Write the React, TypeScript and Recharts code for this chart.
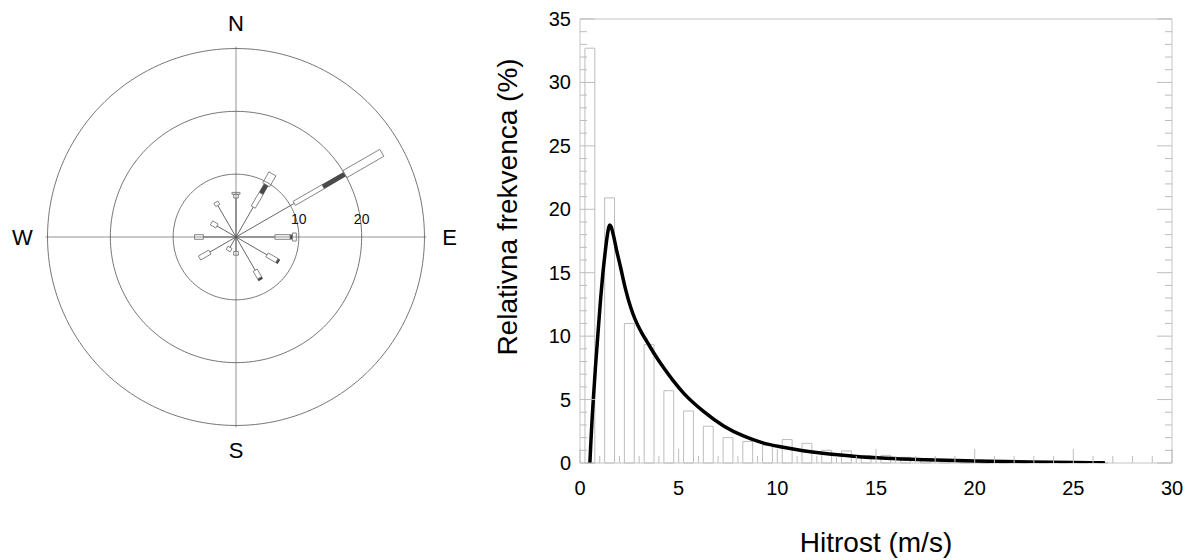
import React from 'react';
import {
  ScatterChart,
  Scatter,
  XAxis,
  YAxis,
  ReferenceLine,
  ReferenceArea,
  ComposedChart,
  Label,
} from 'recharts';

const FONT = '"Liberation Sans", Arial, Helvetica, sans-serif';

// ---------------- Wind rose data (relative frequency, %) ----------------
const roseDirections = [0, 30, 60, 90, 120, 150, 180, 210, 240, 270, 300, 330];
// cumulative frequency at the end of each speed class
const roseClass1 = [6.2, 5.5, 10.7, 6.2, 5.7, 6.1, 2.3, 1.9, 4.8, 5.2, 3.5, 5.8];
const roseClass2 = [6.8, 8.0, 16.0, 8.6, 7.5, 7.5, 2.9, 2.5, 6.7, 6.6, 4.5, 6.4];
const roseClass3 = [6.8, 9.6, 20.0, 9.0, 7.9, 7.9, 2.9, 2.5, 6.7, 6.6, 4.5, 6.4];
const roseClass4 = [7.1, 11.6, 26.8, 9.6, 7.9, 7.9, 2.9, 2.5, 6.7, 6.6, 4.5, 6.4];
const roseRings = [10, 20, 30];
const roseRingLabels = [10, 20];
const compassLabels = ['N', 'E', 'S', 'W'];

// ---------------- Speed histogram data ----------------
const speedBins = [
  0.5, 1.5, 2.5, 3.5, 4.5, 5.5, 6.5, 7.5, 8.5, 9.5, 10.5, 11.5, 12.5, 13.5,
  14.5, 15.5, 16.5, 17.5, 18.5, 19.5, 20.5, 21.5, 22.5, 23.5, 24.5, 25.5, 26.5,
];
const speedFreq = [
  32.7, 20.9, 11.0, 9.35, 5.7, 4.1, 2.9, 2.0, 1.7, 1.4, 1.85, 1.55, 1.0, 0.95,
  0.55, 0.6, 0.45, 0.35, 0.25, 0.2, 0.15, 0.12, 0.1, 0.08, 0.05, 0.05, 0.03,
];
const fitSpeed = [
  0.5, 0.55, 0.62, 0.7, 0.785, 0.9, 1.04, 1.15, 1.29, 1.38, 1.46, 1.51, 1.58,
  1.71, 1.85, 2.05, 2.3, 2.56, 2.8, 3.15, 3.4, 3.82, 4.24, 4.75, 5.26, 6.29,
  7.3, 8.31, 9.3, 10.3, 11.3, 12.3, 14.0, 15.5, 17.5, 20.0, 22.8, 25.0, 26.6,
];
const fitFreq = [
  0, 1.6, 3.65, 5.6, 7.6, 10.0, 12.85, 14.8, 16.8, 17.9, 18.6, 18.76, 18.6,
  17.84, 16.8, 15.47, 13.75, 12.32, 11.3, 10.2, 9.55, 8.47, 7.5, 6.43, 5.49,
  4.03, 2.9, 2.11, 1.57, 1.24, 0.97, 0.76, 0.52, 0.38, 0.26, 0.16, 0.08, 0.04,
  0.02,
];
const xTicks = [
  0, 1, 2, 3, 4, 5, 6, 7, 8, 9, 10, 11, 12, 13, 14, 15, 16, 17, 18, 19, 20,
  21, 22, 23, 24, 25, 26, 27, 28, 29, 30,
];
const yTicks = [
  0, 1, 2, 3, 4, 5, 6, 7, 8, 9, 10, 11, 12, 13, 14, 15, 16, 17, 18, 19, 20,
  21, 22, 23, 24, 25, 26, 27, 28, 29, 30, 31, 32, 33, 34, 35,
];
const xLabelTicks = [0, 5, 10, 15, 20, 25, 30];
const yLabelTicks = [0, 5, 10, 15, 20, 25, 30, 35];

// ---------------- helpers ----------------
const NoShape = () => <g />;

function polar(r: number, deg: number, w = 0) {
  const t = (deg * Math.PI) / 180;
  const s = Math.sin(t);
  const c = Math.cos(t);
  return { x: r * s + w * c, y: r * c - w * s };
}
function boxOutline(r0: number, r1: number, deg: number, w: number) {
  return [
    polar(r0, deg, w),
    polar(r1, deg, w),
    polar(r1, deg, -w),
    polar(r0, deg, -w),
    polar(r0, deg, w),
  ];
}
function ringPoints(r: number) {
  const pts: { x: number; y: number }[] = [];
  for (let a = 0; a <= 360; a += 2) pts.push(polar(r, a));
  return pts;
}

const ROSE_DOMAIN = 38.2;
const GRID = '#666';

function WindRose() {
  const narrowW = 0.37;
  const wideW = 0.64;
  const ringLabelData = roseRingLabels.map((r) => ({ x: r, y: 2.9, label: String(r) }));
  const compassData = compassLabels.map((l, i) => ({ ...polar(34, i * 90), label: l }));

  return (
    <ScatterChart width={480} height={480} margin={{ top: 0, right: 0, bottom: 0, left: 0 }}>
      <XAxis type="number" dataKey="x" domain={[-ROSE_DOMAIN, ROSE_DOMAIN]} hide allowDataOverflow />
      <YAxis type="number" dataKey="y" domain={[-ROSE_DOMAIN, ROSE_DOMAIN]} hide allowDataOverflow />
      {roseRings.map((r) => (
        <Scatter
          key={'ring' + r}
          data={ringPoints(r)}
          line={{ stroke: GRID, strokeWidth: 0.9 }}
          shape={NoShape}
          isAnimationActive={false}
          legendType="none"
        />
      ))}
      <ReferenceLine segment={[polar(30.3, 270), polar(30.3, 90)]} stroke="#777" strokeWidth={0.8} />
      <ReferenceLine segment={[polar(30.3, 0), polar(30.3, 180)]} stroke="#777" strokeWidth={0.8} />
      {roseDirections.map((d, i) => (
        <ReferenceLine
          key={'stem' + d}
          segment={[polar(0, d), polar(roseClass1[i], d)]}
          stroke="#555"
          strokeWidth={0.9}
        />
      ))}
      {roseDirections.map((d, i) =>
        roseClass2[i] > roseClass1[i] ? (
          <Scatter
            key={'narrow' + d}
            data={boxOutline(roseClass1[i], roseClass2[i], d, narrowW)}
            line={{ stroke: '#777', strokeWidth: 0.9 }}
            shape={NoShape}
            isAnimationActive={false}
            legendType="none"
          />
        ) : null
      )}
      {roseDirections.map((d, i) =>
        roseClass3[i] > roseClass2[i] ? (
          <ReferenceLine
            key={'dark' + d}
            segment={[polar(roseClass2[i], d), polar(roseClass3[i], d)]}
            stroke="#4a4a4a"
            strokeWidth={5}
          />
        ) : null
      )}
      {roseDirections.map((d, i) =>
        roseClass4[i] > roseClass3[i] ? (
          <Scatter
            key={'wide' + d}
            data={boxOutline(roseClass3[i], roseClass4[i], d, wideW)}
            line={{ stroke: '#777', strokeWidth: 0.9 }}
            shape={NoShape}
            isAnimationActive={false}
            legendType="none"
          />
        ) : null
      )}
      <Scatter
        data={ringLabelData}
        isAnimationActive={false}
        legendType="none"
        shape={(p: any) => (
          <text x={p.cx} y={p.cy} textAnchor="middle" dominantBaseline="central" fontFamily={FONT} fontSize={14} fill="#111">
            {p.payload.label}
          </text>
        )}
      />
      <Scatter
        data={compassData}
        isAnimationActive={false}
        legendType="none"
        shape={(p: any) => (
          <text x={p.cx} y={p.cy} textAnchor="middle" dominantBaseline="central" fontFamily={FONT} fontSize={22} fill="#000">
            {p.payload.label}
          </text>
        )}
      />
    </ScatterChart>
  );
}

const TICK = '#bdbdbd';
const AXIS = '#c4c4c4';
const BAR_HALF_WIDTH = 0.25;

const BottomTick = (p: any) => {
  const v = p.payload.value;
  const major = v % 5 === 0;
  return (
    <g>
      <line x1={p.x} x2={p.x} y1={p.y} y2={p.y - (major ? 14 : 7)} stroke={TICK} />
      {xLabelTicks.includes(v) && (
        <text x={p.x} y={p.y + 25} textAnchor="middle" dominantBaseline="central" fontFamily={FONT} fontSize={20} fill="#000">
          {v}
        </text>
      )}
    </g>
  );
};
const TopTick = (p: any) => {
  const v = p.payload.value;
  const major = v % 5 === 0;
  return <line x1={p.x} x2={p.x} y1={p.y} y2={p.y + (major ? 14 : 7)} stroke={TICK} />;
};
const LeftTick = (p: any) => {
  const v = p.payload.value;
  const major = v % 5 === 0;
  return (
    <g>
      <line x1={p.x} x2={p.x + (major ? 15 : 7)} y1={p.y} y2={p.y} stroke={TICK} />
      {yLabelTicks.includes(v) && (
        <text x={p.x - 9} y={p.y} textAnchor="end" dominantBaseline="central" fontFamily={FONT} fontSize={20} fill="#000">
          {v}
        </text>
      )}
    </g>
  );
};
const RightTick = (p: any) => {
  const v = p.payload.value;
  const major = v % 5 === 0;
  return <line x1={p.x} x2={p.x - (major ? 15 : 7)} y1={p.y} y2={p.y} stroke={TICK} />;
};

const XTitle = (p: any) => {
  const vb = p.viewBox || {};
  return (
    <text x={vb.x + vb.width / 2} y={vb.y + 89} textAnchor="middle" fontFamily={FONT} fontSize={28} fill="#000">
      Hitrost (m/s)
    </text>
  );
};
const YTitle = (p: any) => {
  const vb = p.viewBox || {};
  const cx = vb.x + 37;
  const cy = vb.y + vb.height / 2 - 34;
  return (
    <text x={cx} y={cy} textAnchor="middle" transform={`rotate(-90 ${cx} ${cy})`} fontFamily={FONT} fontSize={28} fill="#000">
      Relativna frekvenca (%)
    </text>
  );
};

function SpeedHistogram() {
  const fitData = fitSpeed.map((x, i) => ({ x, y: fitFreq[i] }));
  return (
    <ComposedChart width={714} height={560} margin={{ top: 18, right: 21, bottom: 96, left: 0 }}>
      <XAxis
        type="number"
        dataKey="x"
        domain={[0, 30]}
        ticks={xTicks}
        interval={0}
        tickSize={0}
        tickMargin={0}
        tickLine={false}
        tick={(p: any) => <BottomTick {...p} />}
        height={1}
        stroke={AXIS}
        allowDataOverflow
      >
        <Label content={XTitle} />
      </XAxis>
      <XAxis
        xAxisId="top"
        orientation="top"
        type="number"
        domain={[0, 30]}
        ticks={xTicks}
        interval={0}
        tickSize={0}
        tickMargin={0}
        tickLine={false}
        tick={(p: any) => <TopTick {...p} />}
        height={1}
        stroke={AXIS}
        allowDataOverflow
      />
      <YAxis
        type="number"
        domain={[0, 35]}
        ticks={yTicks}
        interval={0}
        tickSize={0}
        tickMargin={0}
        tickLine={false}
        tick={(p: any) => <LeftTick {...p} />}
        width={100}
        stroke={AXIS}
        allowDataOverflow
      >
        <Label content={YTitle} />
      </YAxis>
      <YAxis
        yAxisId="right"
        orientation="right"
        type="number"
        domain={[0, 35]}
        ticks={yTicks}
        interval={0}
        tickSize={0}
        tickMargin={0}
        tickLine={false}
        tick={(p: any) => <RightTick {...p} />}
        width={1}
        stroke={AXIS}
        allowDataOverflow
      />
      {speedBins.map((b, i) => (
        <ReferenceArea
          key={'bin' + b}
          x1={b - BAR_HALF_WIDTH}
          x2={b + BAR_HALF_WIDTH}
          y1={0}
          y2={speedFreq[i]}
          fill="none"
          fillOpacity={0}
          stroke="#bdbdbd"
          strokeWidth={1}
          strokeOpacity={1}
        />
      ))}
      <Scatter
        data={fitData}
        dataKey="y"
        line={{ stroke: '#000', strokeWidth: 3.5, strokeLinejoin: 'round' }}
        lineJointType="monotoneX"
        shape={NoShape}
        isAnimationActive={false}
        legendType="none"
      />
    </ComposedChart>
  );
}

export default function App() {
  return (
    <div style={{ position: 'absolute', left: 0, top: 0, width: 1194, height: 560, background: '#fff', overflow: 'hidden' }}>
      <div style={{ position: 'absolute', left: -4, top: -3 }}>
        <WindRose />
      </div>
      <div style={{ position: 'absolute', left: 480, top: 0 }}>
        <SpeedHistogram />
      </div>
    </div>
  );
}
